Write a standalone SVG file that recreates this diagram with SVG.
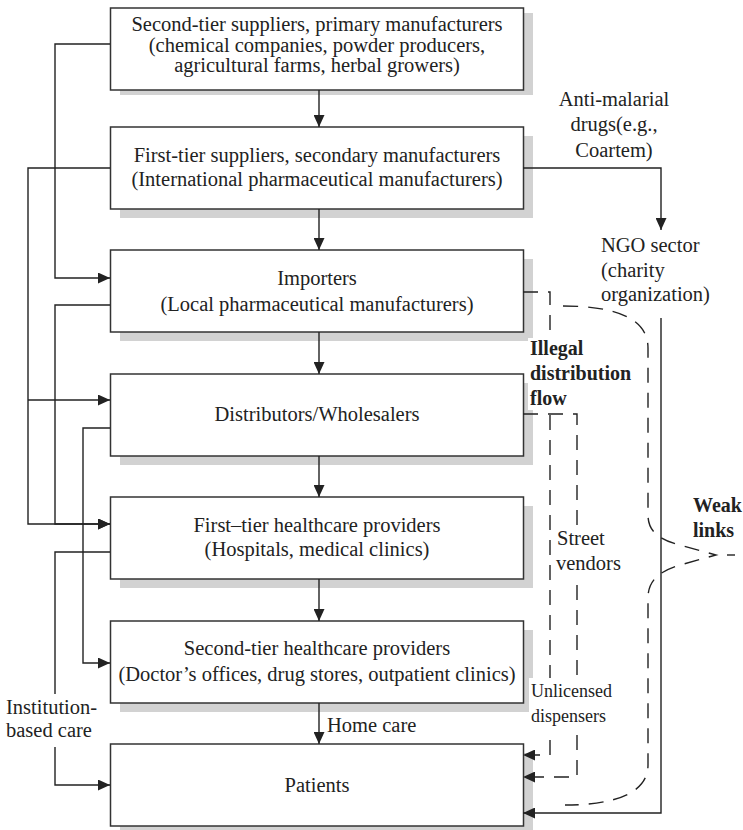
<svg xmlns="http://www.w3.org/2000/svg" width="743" height="830" viewBox="0 0 743 830">
  <defs>
    <marker id="ah" markerUnits="userSpaceOnUse" markerWidth="12" markerHeight="11" refX="12" refY="5.5" orient="auto">
      <path d="M0,0 L12,5.5 L0,11 z" fill="#222"/>
    </marker>
    <style>
      .box { fill: #fff; stroke: #333; stroke-width: 1.5; }
      .shadow { fill: #d2d2d2; stroke: none; }
      .t { font-family: "Liberation Serif", "Times New Roman", serif; font-size: 20.5px; fill: #222; }
      .c { text-anchor: middle; }
      .b { font-weight: bold; font-size: 20px; }
      .sm { font-size: 18px; }
      .ln { fill: none; stroke: #222; stroke-width: 1.4; }
      .dash { fill: none; stroke: #222; stroke-width: 1.4; stroke-dasharray: 15 10; }
      .bg { fill: #fff; }
    </style>
  </defs>
  <rect width="743" height="830" fill="#fff"/>

  <!-- supply chain tiers -->
  <g id="second-tier-suppliers">
    <rect class="shadow" x="120" y="13" width="413" height="82"/>
    <rect class="box" x="110.5" y="8" width="413" height="82"/>
    <text class="t c" x="317" y="31">Second-tier suppliers, primary manufacturers</text>
    <text class="t c" x="317" y="52">(chemical companies, powder producers,</text>
    <text class="t c" x="317" y="72">agricultural farms, herbal growers)</text>
  </g>
  <g id="first-tier-suppliers">
    <rect class="shadow" x="120" y="136" width="413" height="82"/>
    <rect class="box" x="110.5" y="127" width="413" height="82"/>
    <text class="t c" x="317" y="162">First-tier suppliers, secondary manufacturers</text>
    <text class="t c" x="317" y="186">(International pharmaceutical manufacturers)</text>
  </g>
  <g id="importers">
    <rect class="shadow" x="120" y="259" width="413" height="82"/>
    <rect class="box" x="110.5" y="250" width="413" height="82"/>
    <text class="t c" x="317" y="285">Importers</text>
    <text class="t c" x="317" y="311">(Local pharmaceutical manufacturers)</text>
  </g>
  <g id="distributors">
    <rect class="shadow" x="120" y="383" width="413" height="82"/>
    <rect class="box" x="110.5" y="374" width="413" height="82"/>
    <text class="t c" x="317" y="421">Distributors/Wholesalers</text>
  </g>
  <g id="first-tier-healthcare">
    <rect class="shadow" x="120" y="506" width="413" height="82"/>
    <rect class="box" x="110.5" y="497" width="413" height="82"/>
    <text class="t c" x="317" y="532">First–tier healthcare providers</text>
    <text class="t c" x="317" y="556">(Hospitals, medical clinics)</text>
  </g>
  <g id="second-tier-healthcare">
    <rect class="shadow" x="120" y="630" width="413" height="82"/>
    <rect class="box" x="110.5" y="621" width="413" height="82"/>
    <text class="t c" x="317" y="655">Second-tier healthcare providers</text>
    <text class="t c" x="317" y="681">(Doctor’s offices, drug stores, outpatient clinics)</text>
  </g>
  <g id="patients">
    <rect class="shadow" x="120" y="753" width="413" height="82"/>
    <rect class="box" x="110.5" y="744" width="413" height="82"/>
    <text class="t c" x="317" y="792">Patients</text>
  </g>
  <g id="ngo-sector">
    <text class="t" x="601" y="252">NGO sector</text>
    <text class="t" x="601" y="277">(charity</text>
    <text class="t" x="601" y="301">organization)</text>
  </g>

  <!-- connectors -->
  <g id="connectors">
    <!-- main downward flow -->
    <path class="ln" d="M319,90 V127" marker-end="url(#ah)"/>
    <path class="ln" d="M319,209 V250" marker-end="url(#ah)"/>
    <path class="ln" d="M319,332 V374" marker-end="url(#ah)"/>
    <path class="ln" d="M319,456 V497" marker-end="url(#ah)"/>
    <path class="ln" d="M319,579 V621" marker-end="url(#ah)"/>
    <path class="ln" d="M319,703 V744" marker-end="url(#ah)"/>

    <!-- bypass routes on the left -->
    <path class="ln" d="M110,44 H55 V278 H110" marker-end="url(#ah)"/>
    <path class="ln" d="M110,305 H55 V524 H110" marker-end="url(#ah)"/>
    <path class="ln" d="M110,168 H28 V524 H110" marker-end="url(#ah)"/>
    <path class="ln" d="M28,400 H110" marker-end="url(#ah)"/>
    <path class="ln" d="M110,428 H83 V663 H110" marker-end="url(#ah)"/>
    <path class="ln" d="M110,552 H55 V694"/>
    <path class="ln" d="M55,747 V785 H110" marker-end="url(#ah)"/>

    <!-- NGO channel -->
    <path class="ln" d="M523,168 H661 V230" marker-end="url(#ah)"/>
    <path class="ln" d="M661,318 V813 H523" marker-end="url(#ah)"/>

    <!-- illegal distribution flow -->
    <path class="dash" d="M523,292 H550 V755 H523" marker-end="url(#ah)"/>
    <path class="dash" d="M523,414 H577 V777 H523" marker-end="url(#ah)"/>

    <!-- weak links brace -->
    <path class="dash" d="M563,306 C615,306 648,318 648,348 V515 C648,532 660,540 680,545 L716,555 L680,565 C660,571 648,580 648,598 V765 C648,793 615,805 565,805"/>
    <path class="ln" d="M727,555 H735"/>
  </g>

  <!-- free labels; the white panels break the dashed lines behind them -->
  <g id="labels">
    <text class="t c" x="614" y="106">Anti-malarial</text>
    <text class="t c" x="614" y="131">drugs(e.g.,</text>
    <text class="t c" x="614" y="157">Coartem)</text>
    <rect class="bg" x="528" y="338" width="108" height="72"/>
    <text class="t b" x="530" y="355">Illegal</text>
    <text class="t b" x="530" y="380">distribution</text>
    <text class="t b" x="530" y="405">flow</text>
    <text class="t b" x="693" y="512">Weak</text>
    <text class="t b" x="693" y="537">links</text>
    <rect class="bg" x="555" y="528" width="70" height="50"/>
    <text class="t" x="557" y="545">Street</text>
    <text class="t" x="556" y="570">vendors</text>
    <rect class="bg" x="529" y="678" width="86" height="52"/>
    <text class="t sm" x="531" y="697">Unlicensed</text>
    <text class="t sm" x="531" y="722">dispensers</text>
    <text class="t" x="327" y="732">Home care</text>
    <text class="t" x="6" y="714">Institution-</text>
    <text class="t" x="6" y="737">based care</text>
  </g>
</svg>
